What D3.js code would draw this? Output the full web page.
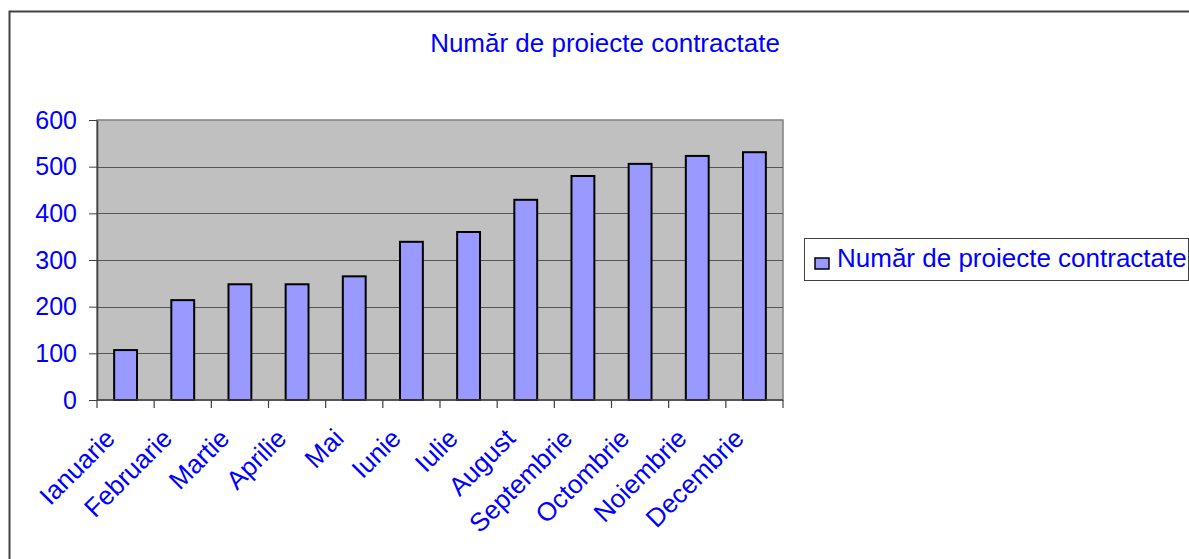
<!DOCTYPE html>
<meta charset="utf-8">
<style>
  body { margin: 0; background: #fff; }
  svg text { font-family: Arial, "Liberation Sans", sans-serif; fill: #0000ff; }
  .y-axis .domain { stroke: #404040; stroke-width: 1.5; }
  .y-axis .tick line { stroke: #404040; }
</style>
<svg width="1189" height="559"></svg>
<script src="https://d3js.org/d3.v7.min.js"></script>
<script>
  var title = "Număr de proiecte contractate";
  var months = ["Ianuarie", "Februarie", "Martie", "Aprilie", "Mai", "Iunie",
    "Iulie", "August", "Septembrie", "Octombrie", "Noiembrie", "Decembrie"];
  var projects = [107, 214, 248, 248, 265, 339, 360, 429, 480, 506, 523, 531];
  var yTicks = [0, 100, 200, 300, 400, 500, 600];

  var svg = d3.select("svg");

  // outer chart frame (runs past the picture on the right and bottom)
  svg.append("rect")
    .attr("x", 9.5).attr("y", 11.5)
    .attr("width", 1300).attr("height", 700)
    .attr("fill", "none")
    .attr("stroke", "#404040")
    .attr("stroke-width", 2);

  var plotLeft = 97, plotRight = 783, plotTop = 120, plotBottom = 400;

  var x = d3.scaleBand()
    .domain(months)
    .range([plotLeft, plotRight])
    .paddingInner(0.6)
    .paddingOuter(0.3);

  var y = d3.scaleLinear()
    .domain([0, 600])
    .range([plotBottom, plotTop]);

  // plot area
  svg.append("rect")
    .attr("x", plotLeft).attr("y", plotTop)
    .attr("width", plotRight - plotLeft).attr("height", plotBottom - plotTop)
    .attr("fill", "#c0c0c0")
    .attr("stroke", "#808080")
    .attr("stroke-width", 1.5);

  // gridlines
  svg.append("g")
    .selectAll("line")
    .data(yTicks.filter(function(d) { return d > 0 && d < 600; }))
    .enter().append("line")
    .attr("x1", plotLeft).attr("x2", plotRight)
    .attr("y1", function(d) { return Math.round(y(d)) + 0.5; })
    .attr("y2", function(d) { return Math.round(y(d)) + 0.5; })
    .attr("stroke", "#555")
    .attr("stroke-width", 1);

  // bars
  svg.append("g")
    .selectAll("rect")
    .data(projects)
    .enter().append("rect")
    .attr("x", function(d, i) { return x(months[i]); })
    .attr("y", function(d) { return y(d); })
    .attr("width", x.bandwidth())
    .attr("height", function(d) { return y(0) - y(d); })
    .attr("fill", "#9999ff")
    .attr("stroke", "#000")
    .attr("stroke-width", 2);

  // y axis
  var yAxis = svg.append("g")
    .attr("class", "y-axis")
    .attr("transform", "translate(" + plotLeft + ",0)")
    .call(d3.axisLeft(y).tickValues(yTicks).tickSize(8).tickSizeOuter(0).tickPadding(12));
  yAxis.selectAll("text")
    .attr("font-size", "25px")
    .attr("fill", "#0000ff")
    .attr("font-family", "Arial, 'Liberation Sans', sans-serif");

  // x axis line and ticks at category boundaries
  var gap = (x.step() - x.bandwidth()) / 2;
  var bounds = months.map(function(m) { return x(m) - gap; }).concat([plotRight]);
  var xAxis = svg.append("g");
  xAxis.append("line")
    .attr("x1", plotLeft).attr("x2", plotRight)
    .attr("y1", plotBottom).attr("y2", plotBottom)
    .attr("stroke", "#404040").attr("stroke-width", 1.5);
  xAxis.selectAll(".xt")
    .data(bounds)
    .enter().append("line")
    .attr("class", "xt")
    .attr("x1", function(d) { return d; }).attr("x2", function(d) { return d; })
    .attr("y1", plotBottom).attr("y2", plotBottom + 8)
    .attr("stroke", "#404040").attr("stroke-width", 1.2);

  xAxis.selectAll("text")
    .data(months)
    .enter().append("text")
    .attr("transform", function(d) {
      return "translate(" + (x(d) + x.bandwidth() / 2 - 9) + "," + (plotBottom + 40) + ") rotate(-45)";
    })
    .attr("text-anchor", "end")
    .attr("font-size", "26px")
    .text(function(d) { return d; });

  // title
  svg.append("text")
    .attr("x", 605).attr("y", 52)
    .attr("text-anchor", "middle")
    .attr("font-size", "26px")
    .text(title);

  // legend
  var legend = svg.append("g");
  legend.append("rect")
    .attr("x", 804.5).attr("y", 238.5)
    .attr("width", 384).attr("height", 42)
    .attr("fill", "#fff")
    .attr("stroke", "#404040")
    .attr("stroke-width", 1);
  legend.append("rect")
    .attr("x", 815).attr("y", 258)
    .attr("width", 14).attr("height", 11)
    .attr("fill", "#9999ff")
    .attr("stroke", "#000")
    .attr("stroke-width", 1.5);
  legend.append("text")
    .attr("x", 837).attr("y", 267)
    .attr("font-size", "26px")
    .text(title);
</script>
